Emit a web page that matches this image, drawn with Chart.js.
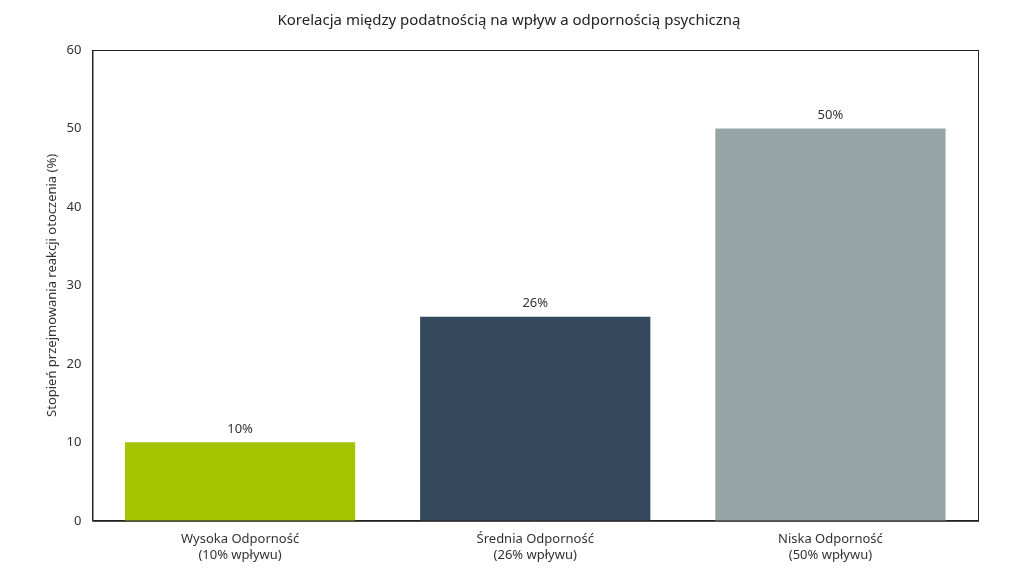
<!DOCTYPE html>
<html>
<head>
<meta charset="utf-8">
<script src="https://cdn.jsdelivr.net/npm/chart.js@4"></script>
<style>
  html, body { margin: 0; padding: 0; background: #fff; }
</style>
</head>
<body>
<canvas id="c" width="1024" height="576"></canvas>
<script>
const categories = [['Wysoka Odporność', '(10% wpływu)'], ['Średnia Odporność', '(26% wpływu)'], ['Niska Odporność', '(50% wpływu)']];
const values = [10, 26, 50];
const barColors = ['#a5c400', '#34495e', '#95a5a6'];
const yTicks = [0, 10, 20, 30, 40, 50, 60];

const fontFamily = '"Noto Sans", sans-serif';

// value labels above bars + frame on top/right
const extras = {
  id: 'extras',
  afterDatasetsDraw(chart) {
    const ctx = chart.ctx;
    const meta = chart.getDatasetMeta(0);
    ctx.save();
    ctx.fillStyle = '#333';
    ctx.font = '13px ' + fontFamily;
    ctx.textAlign = 'center';
    ctx.textBaseline = 'bottom';
    meta.data.forEach((bar, i) => {
      ctx.fillText(values[i] + '%', bar.x, bar.y - 7);
    });
    const a = chart.chartArea;
    ctx.strokeStyle = '#222';
    ctx.lineWidth = 1;
    ctx.strokeRect(a.left + 0.5, a.top + 0.5, a.right - a.left, a.bottom - a.top);
    ctx.restore();
  }
};

new Chart(document.getElementById('c').getContext('2d'), {
  type: 'bar',
  data: {
    labels: categories,
    datasets: [{
      data: values,
      backgroundColor: barColors,
      barPercentage: 0.78,
      categoryPercentage: 1
    }]
  },
  options: {
    responsive: false,
    animation: false,
    devicePixelRatio: 1,
    layout: { padding: { left: 40, right: 46, top: 8, bottom: 10 } },
    scales: {
      x: {
        grid: { display: false },
        border: { color: '#222' },
        ticks: { color: '#333', font: { size: 13, family: fontFamily } }
      },
      y: {
        min: 0,
        max: 60,
        afterBuildTicks: axis => { axis.ticks = yTicks.map(v => ({ value: v })); },
        grid: { display: false },
        border: { color: '#222' },
        ticks: { color: '#333', font: { size: 13, family: fontFamily } },
        title: { display: true, text: 'Stopień przejmowania reakcji otoczenia (%)', color: '#333', font: { size: 13, family: fontFamily } }
      }
    },
    plugins: {
      legend: { display: false },
      tooltip: { enabled: false },
      title: { display: true, text: 'Korelacja między podatnością na wpływ a odpornością psychiczną', color: '#222', font: { size: 15, weight: 'normal', family: fontFamily }, padding: { top: 4, bottom: 20 } }
    }
  },
  plugins: [extras]
});
</script>
</body>
</html>
